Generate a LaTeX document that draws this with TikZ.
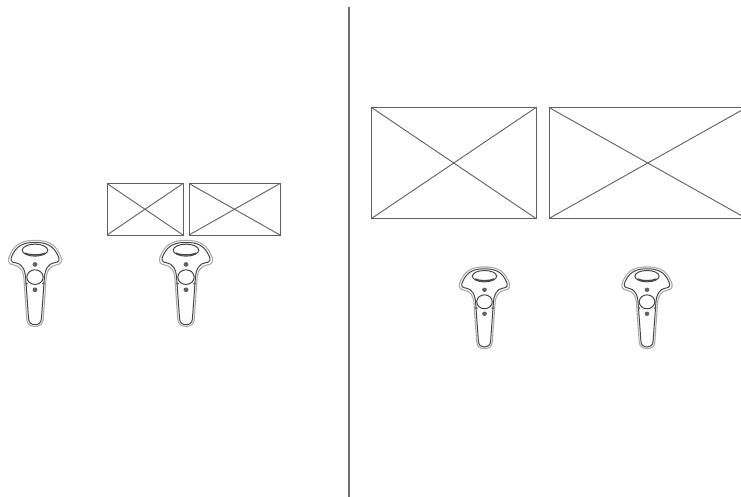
\documentclass[tikz,border=0pt]{standalone}
\usepackage{tikz}
\usetikzlibrary{positioning,calc}
\definecolor{wireline}{RGB}{95,95,95}
\definecolor{dividercol}{RGB}{110,110,110}
\definecolor{shellcol}{RGB}{170,170,170}
\definecolor{ctrlcol}{RGB}{70,70,70}
\tikzset{
  wirebox/.style={draw=wireline,line width=0.9pt},
  divider/.style={draw=dividercol,line width=2pt},
  shell/.style={draw=shellcol,line width=1.1pt},
  ctrlline/.style={draw=ctrlcol,line width=1pt},
  ctrldot/.style={fill=ctrlcol!85,draw=none},
  controller/.pic={
    \begin{scope}[x=0.355pt,y=-0.333pt]
    % outer grey rim, then the body
    \draw[shell,line join=round] (0,0) .. controls (30,-1) and (55,8) .. (68,38)
      .. controls (80,60) and (76,72) .. (58,74)
      .. controls (42,76) and (32,92) .. (31,118)
      -- (23,238) .. controls (22,252) and (12,258) .. (0,258)
      .. controls (-12,258) and (-22,252) .. (-23,238)
      -- (-31,118) .. controls (-32,92) and (-42,76) .. (-58,74)
      .. controls (-76,72) and (-80,60) .. (-68,38)
      .. controls (-55,8) and (-30,-1) .. (0,0) -- cycle;
    \draw[ctrlline,line join=round] (0,6) .. controls (28,5) and (50,14) .. (62,40)
      .. controls (72,58) and (68,66) .. (54,67)
      .. controls (38,69) and (27,86) .. (26,118)
      -- (18,236) .. controls (17,248) and (9,253) .. (0,253)
      .. controls (-9,253) and (-17,248) .. (-18,236)
      -- (-26,118) .. controls (-27,86) and (-38,69) .. (-54,67)
      .. controls (-68,66) and (-72,58) .. (-62,40)
      .. controls (-50,14) and (-28,5) .. (0,6) -- cycle;
    \draw[ctrlline] (0,29) ellipse [x radius=36,y radius=18];
    \draw[ctrlline,line width=1.4pt] (-28,38) .. controls (-14,45) and (14,45) .. (28,38);
    \draw[ctrlline] (0,110) ellipse [x radius=23,y radius=22];
    \fill[ctrldot] (0,72) circle [radius=7];
    \fill[ctrldot] (0,148) circle [radius=7];
    \fill[ctrldot] (-24,130) circle [radius=4];
    \fill[ctrldot] (24,130) circle [radius=4];
    \end{scope}
  }
}
\begin{document}
\begin{tikzpicture}[x=1pt,y=-1pt]
  \useasboundingbox (0,0) rectangle (741,497);
  \begin{scope}
    \clip (0,0) rectangle (741,497);
    \draw[divider] (348.5,7) -- (348.5,497);
    % small frames
    \foreach \xa/\xb/\ya/\yb in {107/183/183.5/235, 189/280/183.5/235, 371.5/536/107.5/218.5, 549/746.5/107.5/218.5}{
      \draw[wirebox] (\xa,\ya) rectangle (\xb,\yb);
      \draw[wirebox] (\xa,\ya) -- (\xb,\yb);
      \draw[wirebox] (\xa,\yb) -- (\xb,\ya);
    }
    % controllers
    \foreach \cx/\cy/\cs in {35/240.5/1, 186/240.5/1, 484.5/267/0.95, 647/267/0.95}{
      \pic[scale=\cs] at (\cx,\cy) {controller};
    }
  \end{scope}
\end{tikzpicture}
\end{document}
